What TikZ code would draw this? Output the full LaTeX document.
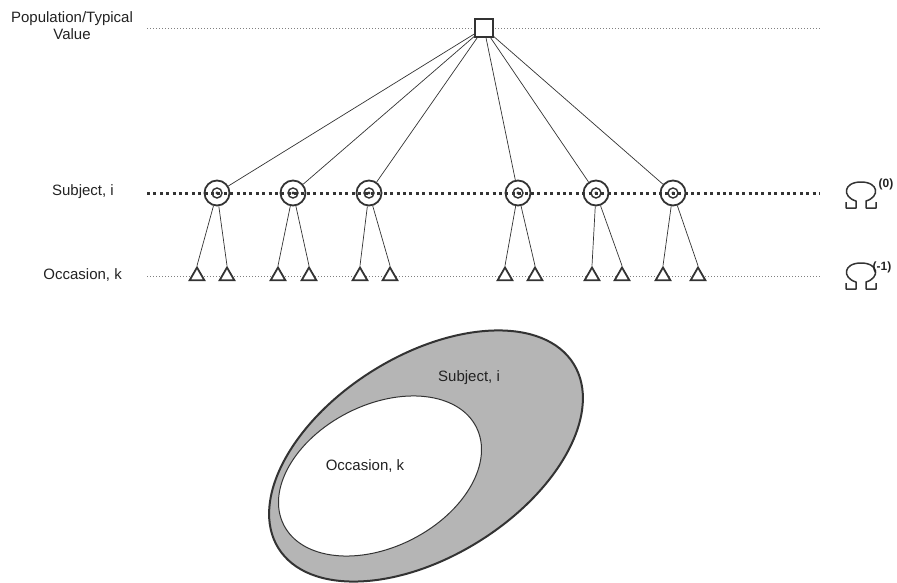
\documentclass[tikz,border=0pt]{standalone}
\usepackage{fontspec}
\setmainfont{Liberation Sans}
\usetikzlibrary{shapes.geometric}
\definecolor{ink}{HTML}{333333}
\definecolor{txt}{HTML}{222222}
\definecolor{band}{HTML}{B5B5B5}
\tikzset{
  lbl/.style={font=\fontsize{15}{17}\selectfont, text=txt, inner sep=0pt},
  suplbl/.style={font=\fontsize{12}{14}\selectfont\bfseries, text=txt, inner sep=0pt},
  popbox/.style={draw=ink, line width=1.6pt, fill=white, minimum size=18pt, inner sep=0pt},
  subj/.style={draw=ink, line width=1.8pt, circle, minimum size=25pt, inner sep=0pt,
    path picture={
      \draw[ink, line width=1.4pt] (path picture bounding box.center) circle (5pt);
      \fill[ink] (path picture bounding box.center) circle (1.6pt);}},
  occ/.style={draw=ink, line width=1.8pt, fill=white, regular polygon, regular polygon sides=3,
    minimum size=17pt, inner sep=0pt},
  thinrule/.style={gray, line width=0.8pt, dash pattern=on 1.2pt off 1.8pt},
  thickrule/.style={ink, line width=3pt, dash pattern=on 3pt off 3.4pt},
  link/.style={ink, line width=0.7pt},
  omega/.pic={
    \draw[ink, line width=1.5pt, line join=round]
      (-15,6) -- (-15,0) -- (-5,0) -- (-5,7)
      .. controls (-19,11) and (-18,26) .. (0,26)
      .. controls (18,26) and (19,11) .. (5,7)
      -- (5,0) -- (15,0) -- (15,6);
  }
}
\begin{document}
\begin{tikzpicture}[x=1pt, y=1pt]
\useasboundingbox (0,0) rectangle (897,-583);

% level labels
\node[lbl, align=center] (poplbl) at (72,-26) {Population/Typical\\Value};
\node[lbl, anchor=east] (subjlbl) at (114,-192) {Subject, i};
\node[lbl, anchor=east] (occlbl) at (122,-275) {Occasion, k};

% level rules
\coordinate (popL) at (147,-28);  \coordinate (popR) at (820,-28);
\coordinate (subL) at (147,-193); \coordinate (subR) at (820,-193);
\coordinate (occL) at (147,-276); \coordinate (occR) at (820,-276);
\draw[thinrule] (popL) -- (popR);
\draw[thinrule] (occL) -- (occR);
\draw[thickrule] (subL) -- (subR);

% population node
\node[popbox] (pop) at (484,-28) {};

% subjects
\foreach \i/\x in {1/217, 2/293, 3/369, 4/518, 5/596, 6/673} {
  \node[subj] (s\i) at (\x,-193) {};
  \draw[link] (pop) -- (s\i);
}

% occasions
\foreach \i/\xa/\xb in {1/197/227, 2/278/309, 3/360/390, 4/505/535, 5/592/622, 6/663/698} {
  \node[occ] (o\i a) at (\xa,-276) {};
  \node[occ] (o\i b) at (\xb,-276) {};
  \draw[link] (s\i) -- (o\i a.north);
  \draw[link] (s\i) -- (o\i b.north);
}

% variance symbols
\pic at (861,-208) {omega};
\node[suplbl] (om0) at (886,-184) {(0)};
\pic at (861,-289) {omega};
\node[suplbl] (om1) at (882,-267) {(-1)};

% nested random-effect levels
\draw[ink, line width=2pt, fill=band, rotate around={32:(426,-456)}]
  (426,-456) ellipse [x radius=174pt, y radius=100.5pt];
\draw[ink, line width=1pt, fill=white, rotate around={27:(380,-476)}]
  (380,-476) ellipse [x radius=108pt, y radius=71pt];
\node[lbl] (subjin) at (469,-378) {Subject, i};
\node[lbl] (occin) at (365,-466) {Occasion, k};
\end{tikzpicture}
\end{document}
